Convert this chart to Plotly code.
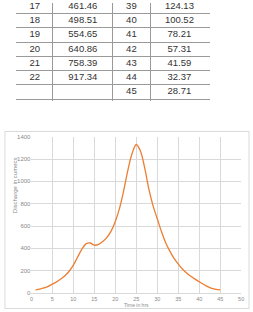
import plotly.graph_objects as go

# ---- data ----
hours = list(range(1, 46))
discharge = [28, 35, 45, 60, 80, 100, 125, 155, 195, 250,
             320, 390, 440, 448, 428, 435, 461.46, 498.51, 554.65, 640.86,
             758.39, 917.34, 1100, 1250, 1330, 1270, 1120, 930, 780, 665,
             550, 450, 375, 310, 260, 215, 180, 150, 124.13, 100.52,
             78.21, 57.31, 41.59, 32.37, 28.71]

tbl_hours_left = hours[16:22]
tbl_q_left = discharge[16:22]
tbl_hours_right = hours[38:45]
tbl_q_right = discharge[38:45]

x_ticks = [0, 5, 10, 15, 20, 25, 30, 35, 40, 45, 50]
y_ticks = [0, 200, 400, 600, 800, 1000, 1200, 1400]

W, H = 253, 312
def py(p):
    return 1 - p / H
def px(p):
    return p / W

fig = go.Figure()

# ---- chart ----
fig.add_trace(go.Scatter(
    x=hours, y=discharge, mode="lines",
    line=dict(color="#ED7D31", width=1.3, shape="spline", smoothing=1),
    xaxis="x", yaxis="y", showlegend=False, hoverinfo="skip"))

# ---- table (on its own axes) ----
col_bounds = [0, 37, 98, 136, 196]
col_centers = [18.5, 67.5, 117, 166]
fmt = lambda v: f"{v:.2f}"
rows_left = list(range(len(tbl_hours_left)))
rows_right = list(range(len(tbl_hours_right)))
tfont = dict(family="Liberation Sans", size=9.5, color="#333333")
fig.add_trace(go.Scatter(x=[col_centers[0]] * len(rows_left), y=rows_left,
                         text=[str(h) for h in tbl_hours_left], mode="text",
                         textfont=tfont, xaxis="x2", yaxis="y2", showlegend=False, hoverinfo="skip"))
fig.add_trace(go.Scatter(x=[col_centers[1]] * len(rows_left), y=rows_left,
                         text=[fmt(v) for v in tbl_q_left], mode="text",
                         textfont=tfont, xaxis="x2", yaxis="y2", showlegend=False, hoverinfo="skip"))
fig.add_trace(go.Scatter(x=[col_centers[2]] * len(rows_right), y=rows_right,
                         text=[str(h) for h in tbl_hours_right], mode="text",
                         textfont=tfont, xaxis="x2", yaxis="y2", showlegend=False, hoverinfo="skip"))
fig.add_trace(go.Scatter(x=[col_centers[3]] * len(rows_right), y=rows_right,
                         text=[fmt(v) for v in tbl_q_right], mode="text",
                         textfont=tfont, xaxis="x2", yaxis="y2", showlegend=False, hoverinfo="skip"))

row_bounds = [i + 0.5 for i in range(-1, 7)]
tick_font = dict(family="Liberation Sans", size=6, color="#8a8a8a")
xtick_font = dict(family="Liberation Sans", size=5.5, color="#8a8a8a")

fig.update_layout(
    width=W, height=H, margin=dict(l=0, r=0, t=0, b=0),
    paper_bgcolor="white", plot_bgcolor="white",
    xaxis=dict(domain=[px(30), px(244)], range=[0, 50], tickvals=x_ticks,
               showgrid=True, gridcolor="#d9d9d9", gridwidth=1, zeroline=False,
               showline=True, linecolor="#d9d9d9", ticks="", tickfont=xtick_font,
               ticklabelstandoff=0, anchor="y"),
    yaxis=dict(domain=[py(295.7), py(136.3)], range=[0, 1400], tickvals=y_ticks,
               showgrid=True, gridcolor="#d9d9d9", gridwidth=1, zeroline=False,
               showline=False, ticks="", tickfont=tick_font, anchor="x"),
    xaxis2=dict(domain=[px(14), px(212)], range=[-1, 197], tickvals=col_bounds,
                showgrid=True, gridcolor="#9a9a9a", gridwidth=1, zeroline=False,
                showticklabels=False, ticks="", anchor="y2"),
    yaxis2=dict(domain=[py(99.5), 1], range=[6.603, -0.235], tickvals=row_bounds,
                showgrid=True, gridcolor="#9a9a9a", gridwidth=1, zeroline=False,
                showticklabels=False, ticks="", anchor="x2"),
    shapes=[dict(type="rect", xref="paper", yref="paper",
                 x0=px(3), x1=px(252), y0=py(311.5), y1=py(131),
                 line=dict(color="#d9d9d9", width=1), fillcolor="rgba(0,0,0,0)")],
    annotations=[
        dict(text="Time in hrs", xref="paper", yref="paper",
             x=px(137), y=py(311.8), yanchor="bottom", showarrow=False,
             borderpad=0,
             font=dict(family="Liberation Sans", size=5, color="#8a8a8a")),
        dict(text="Discharge in cumecs", xref="paper", yref="paper",
             x=px(7.5), y=py(216), textangle=-90, showarrow=False,
             font=dict(family="Liberation Sans", size=6, color="#8a8a8a")),
    ],
)

fig.write_html("out.html")
